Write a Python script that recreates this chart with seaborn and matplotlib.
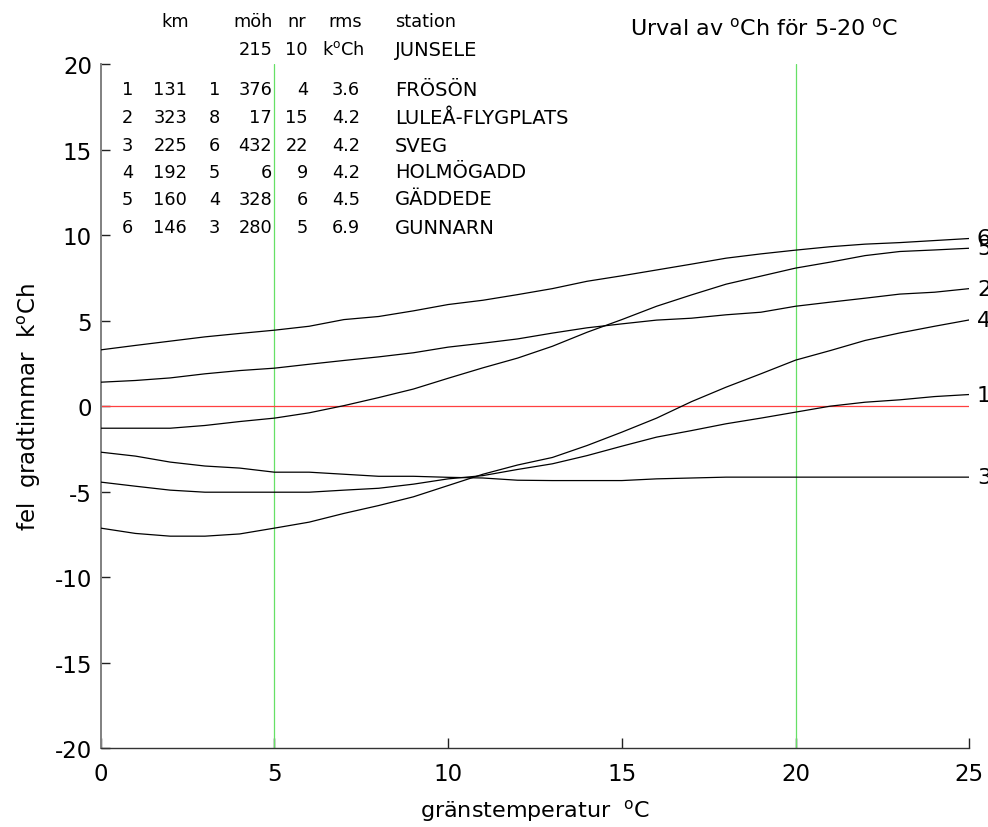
import matplotlib
matplotlib.use("Agg")
import matplotlib.pyplot as plt
import numpy as np
import pandas as pd
import seaborn as sns

# grΣnstemperatur (x) and error curves per station number
temp = list(range(0, 26))

fel_1 = [-4.44, -4.68, -4.91, -5.03, -5.03, -5.03, -5.03, -4.91, -4.80, -4.56, -4.25, -4.06, -3.70,
         -3.37, -2.89, -2.34, -1.81, -1.43, -1.03, -0.70, -0.35, 0.00, 0.23, 0.37, 0.56, 0.68]
fel_2 = [1.40, 1.50, 1.65, 1.89, 2.08, 2.22, 2.45, 2.67, 2.88, 3.12, 3.45, 3.68, 3.93,
         4.27, 4.58, 4.81, 5.03, 5.14, 5.34, 5.49, 5.84, 6.08, 6.31, 6.55, 6.66, 6.87]
fel_3 = [-2.69, -2.92, -3.27, -3.50, -3.62, -3.86, -3.86, -3.98, -4.10, -4.10, -4.16, -4.20, -4.33,
         -4.35, -4.35, -4.35, -4.25, -4.20, -4.15, -4.15, -4.15, -4.15, -4.15, -4.15, -4.15, -4.15]
fel_4 = [-7.13, -7.44, -7.60, -7.60, -7.47, -7.13, -6.78, -6.27, -5.81, -5.30, -4.64, -3.98, -3.44,
         -3.00, -2.30, -1.52, -0.70, 0.26, 1.11, 1.89, 2.69, 3.25, 3.84, 4.28, 4.67, 5.04]
fel_5 = [-1.29, -1.29, -1.29, -1.13, -0.90, -0.70, -0.39, 0.03, 0.50, 1.00, 1.63, 2.24, 2.81,
         3.50, 4.32, 5.06, 5.84, 6.50, 7.13, 7.60, 8.07, 8.42, 8.80, 9.04, 9.13, 9.23]
fel_6 = [3.29, 3.55, 3.80, 4.05, 4.25, 4.44, 4.67, 5.06, 5.24, 5.57, 5.94, 6.19, 6.52,
         6.87, 7.30, 7.62, 7.96, 8.30, 8.65, 8.90, 9.12, 9.32, 9.47, 9.56, 9.68, 9.80]

# station table
nr_list = ["1", "2", "3", "4", "5", "6"]
km = ["131", "323", "225", "192", "160", "146"]
rank = ["1", "8", "6", "5", "4", "3"]
moh = ["376", "17", "432", "6", "328", "280"]
nr_obs = ["4", "15", "22", "9", "6", "5"]
rms = ["3.6", "4.2", "4.2", "4.2", "4.5", "6.9"]
station = ["FRÖSÖN", "LULEÅ-FLYGPLATS", "SVEG", "HOLMÖGADD", "GÄDDEDE", "GUNNARN"]
ref_station = "JUNSELE"
ref_moh = "215"
ref_nr = "10"

sns.set_theme(style="white")
plt.rcParams["font.family"] = ["DejaVu Sans"]
plt.rcParams["mathtext.fontset"] = "dejavusans"
plt.rcParams["axes.unicode_minus"] = False
plt.rcParams["text.color"] = "black"
plt.rcParams["axes.labelcolor"] = "black"
plt.rcParams["xtick.color"] = "black"
plt.rcParams["ytick.color"] = "black"
plt.rcParams["xtick.bottom"] = True
plt.rcParams["ytick.left"] = True

curves = [fel_1, fel_2, fel_3, fel_4, fel_5, fel_6]
df = pd.concat(
    [pd.DataFrame({"temp": temp, "fel": c, "nr": i + 1}) for i, c in enumerate(curves)],
    ignore_index=True,
)

W, H = 988, 828
fig = plt.figure(figsize=(W / 100, H / 100), dpi=100)
ax = fig.add_axes([100.7 / W, 1 - 749.3 / H, 868.6 / W, 684.3 / H])

ax.axvline(5, color="#66e066", lw=0.9, zorder=1)
ax.axvline(20, color="#66e066", lw=0.9, zorder=1)
ax.axhline(0, color="#ff4040", lw=0.9, zorder=1)

sns.lineplot(data=df, x="temp", y="fel", units="nr", estimator=None,
             color="black", lw=0.9, ax=ax, legend=False, zorder=3)

for i, c in enumerate(curves):
    ax.text(25.22, c[-1], str(i + 1), fontsize=16, ha="left", va="center", clip_on=False)

ax.set_xlim(0, 25)
ax.set_ylim(-20, 20)
ax.set_xticks(range(0, 26, 5))
ax.set_yticks(range(-20, 21, 5))
ax.tick_params(axis="y", direction="in", length=6.5, width=1.0, color="#222222",
               labelsize=16.5, pad=6.3, left=True)
ax.tick_params(axis="x", direction="in", length=7, width=1.0, color="#222222",
               labelsize=16.5, pad=10, bottom=True)
for s in ["top", "right"]:
    ax.spines[s].set_visible(False)
ax.spines["left"].set_color("#808080")
ax.spines["left"].set_linewidth(1.4)
ax.spines["bottom"].set_color("#333333")
ax.spines["bottom"].set_linewidth(1.0)

ax.set_xlabel(r"gränstemperatur  $^{\rm o}$C", fontsize=16)
ax.xaxis.label.set_va("baseline")
ax.xaxis.set_label_coords(0.5, (749.3 - 817) / 684.3)
ax.set_ylabel(r"fel  gradtimmar  k$^{\rm o}$Ch", fontsize=16.5)
ax.yaxis.set_label_coords(-0.067, 0.5)


def ft(px, py, s, ha="left", size=12.8):
    fig.text(px / W, 1 - py / H, s, ha=ha, va="center", fontsize=size)


ft(630, 28, r"Urval av $^{\rm o}$Ch för 5-20 $^{\rm o}$C", size=16)

# header
ft(175, 22, "km", ha="center")
ft(253, 22, "möh", ha="center")
ft(297, 22, "nr", ha="center")
ft(345, 22, "rms", ha="center")
ft(395, 22, "station")
ft(273, 50, ref_moh, ha="right")
ft(308, 50, ref_nr, ha="right")
ft(322, 50, r"k$^{\rm o}$Ch")
ft(395, 50, ref_station, size=14)

row_y = [90, 118, 146, 173, 200, 228]
for j in range(len(nr_list)):
    y = row_y[j]
    ft(133, y, nr_list[j], ha="right")
    ft(187, y, km[j], ha="right")
    ft(220, y, rank[j], ha="right")
    ft(272, y, moh[j], ha="right")
    ft(308, y, nr_obs[j], ha="right")
    ft(360, y, rms[j], ha="right")
    ft(395, y, station[j], size=14)

fig.savefig("out.png", dpi=100)
